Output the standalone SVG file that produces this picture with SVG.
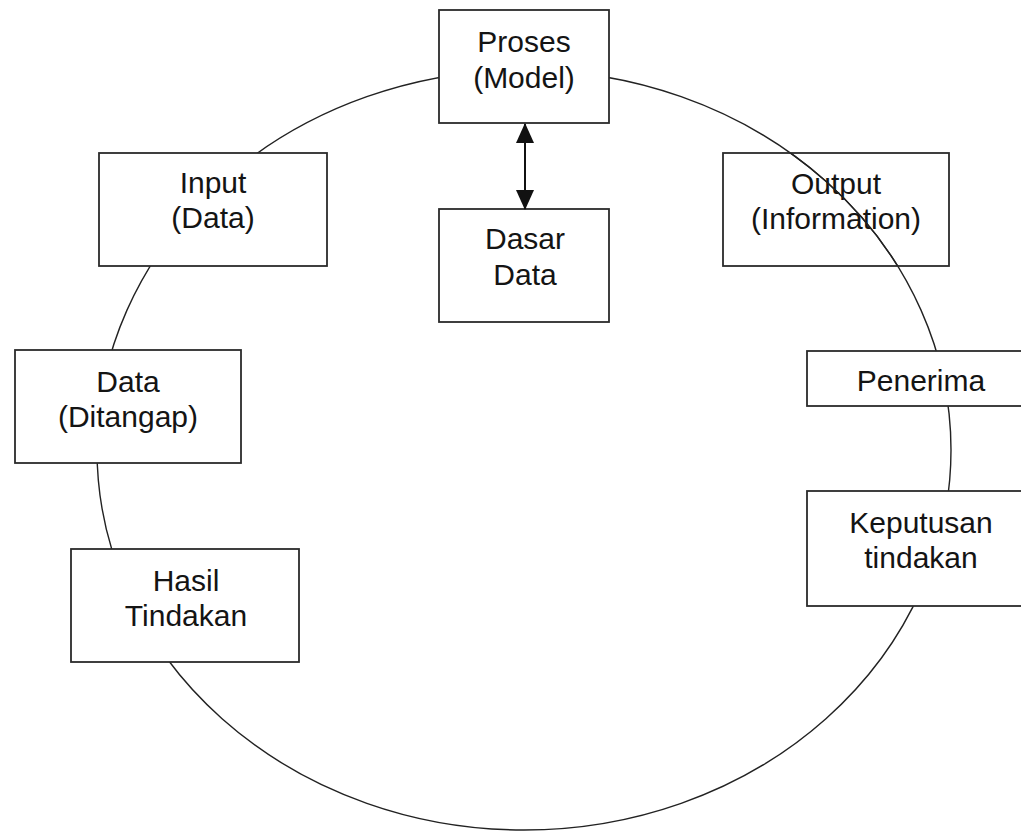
<svg xmlns="http://www.w3.org/2000/svg" width="1021" height="831" viewBox="0 0 1021 831">
  <style>
    .box { fill: #ffffff; stroke: #2b2b2b; stroke-width: 1.8; }
    .open { fill: none; stroke: #2b2b2b; stroke-width: 1.8; }
    .cycle { fill: none; stroke: #222222; stroke-width: 1.4; }
    .label { font-family: "Liberation Sans", Arial, sans-serif; font-size: 30px; fill: #141414; text-anchor: middle; }
    .link { stroke: #111111; stroke-width: 2; fill: none; }
  </style>
  <defs>
    <marker id="head" viewBox="0 0 20 18" refX="19" refY="9" markerWidth="20" markerHeight="18" markerUnits="userSpaceOnUse" orient="auto-start-reverse">
      <path d="M0,0 L20,9 L0,18 Z" fill="#111111"/>
    </marker>
    <clipPath id="outputClip">
      <rect x="723" y="153" width="226" height="113"/>
    </clipPath>
  </defs>

  <rect width="1021" height="831" fill="#ffffff"/>

  <!-- information cycle -->
  <ellipse class="cycle" cx="524" cy="450" rx="427" ry="380"/>

  <g id="node-proses">
    <rect class="box" x="439" y="10" width="170" height="113"/>
    <text class="label" x="524" y="52">Proses</text>
    <text class="label" x="524" y="88">(Model)</text>
  </g>

  <g id="node-dasar-data">
    <rect class="box" x="439" y="209" width="170" height="113"/>
    <text class="label" x="525" y="249">Dasar</text>
    <text class="label" x="525" y="285">Data</text>
  </g>

  <g id="node-input">
    <rect class="box" x="99" y="153" width="228" height="113"/>
    <text class="label" x="213" y="193">Input</text>
    <text class="label" x="213" y="228">(Data)</text>
  </g>

  <g id="node-data-ditangap">
    <rect class="box" x="15" y="350" width="226" height="113"/>
    <text class="label" x="128" y="392">Data</text>
    <text class="label" x="128" y="427">(Ditangap)</text>
  </g>

  <g id="node-hasil">
    <rect class="box" x="71" y="549" width="228" height="113"/>
    <text class="label" x="186" y="591">Hasil</text>
    <text class="label" x="186" y="626">Tindakan</text>
  </g>

  <g id="node-penerima">
    <rect class="box" x="807" y="351" width="228" height="55"/>
    <text class="label" x="921" y="391">Penerima</text>
  </g>

  <g id="node-keputusan">
    <rect class="box" x="807" y="491" width="228" height="115"/>
    <text class="label" x="921" y="533">Keputusan</text>
    <text class="label" x="921" y="568">tindakan</text>
  </g>

  <!-- the cycle line stays visible across this box -->
  <g id="node-output">
    <rect class="open" x="723" y="153" width="226" height="113"/>
    <text class="label" x="836" y="194">Output</text>
    <text class="label" x="836" y="229">(Information)</text>
  </g>
  <ellipse class="cycle" cx="524" cy="450" rx="427" ry="380" clip-path="url(#outputClip)"/>

  <g id="connectors">
    <line class="link" x1="525" y1="124" x2="525" y2="209" marker-start="url(#head)" marker-end="url(#head)"/>
  </g>
</svg>
